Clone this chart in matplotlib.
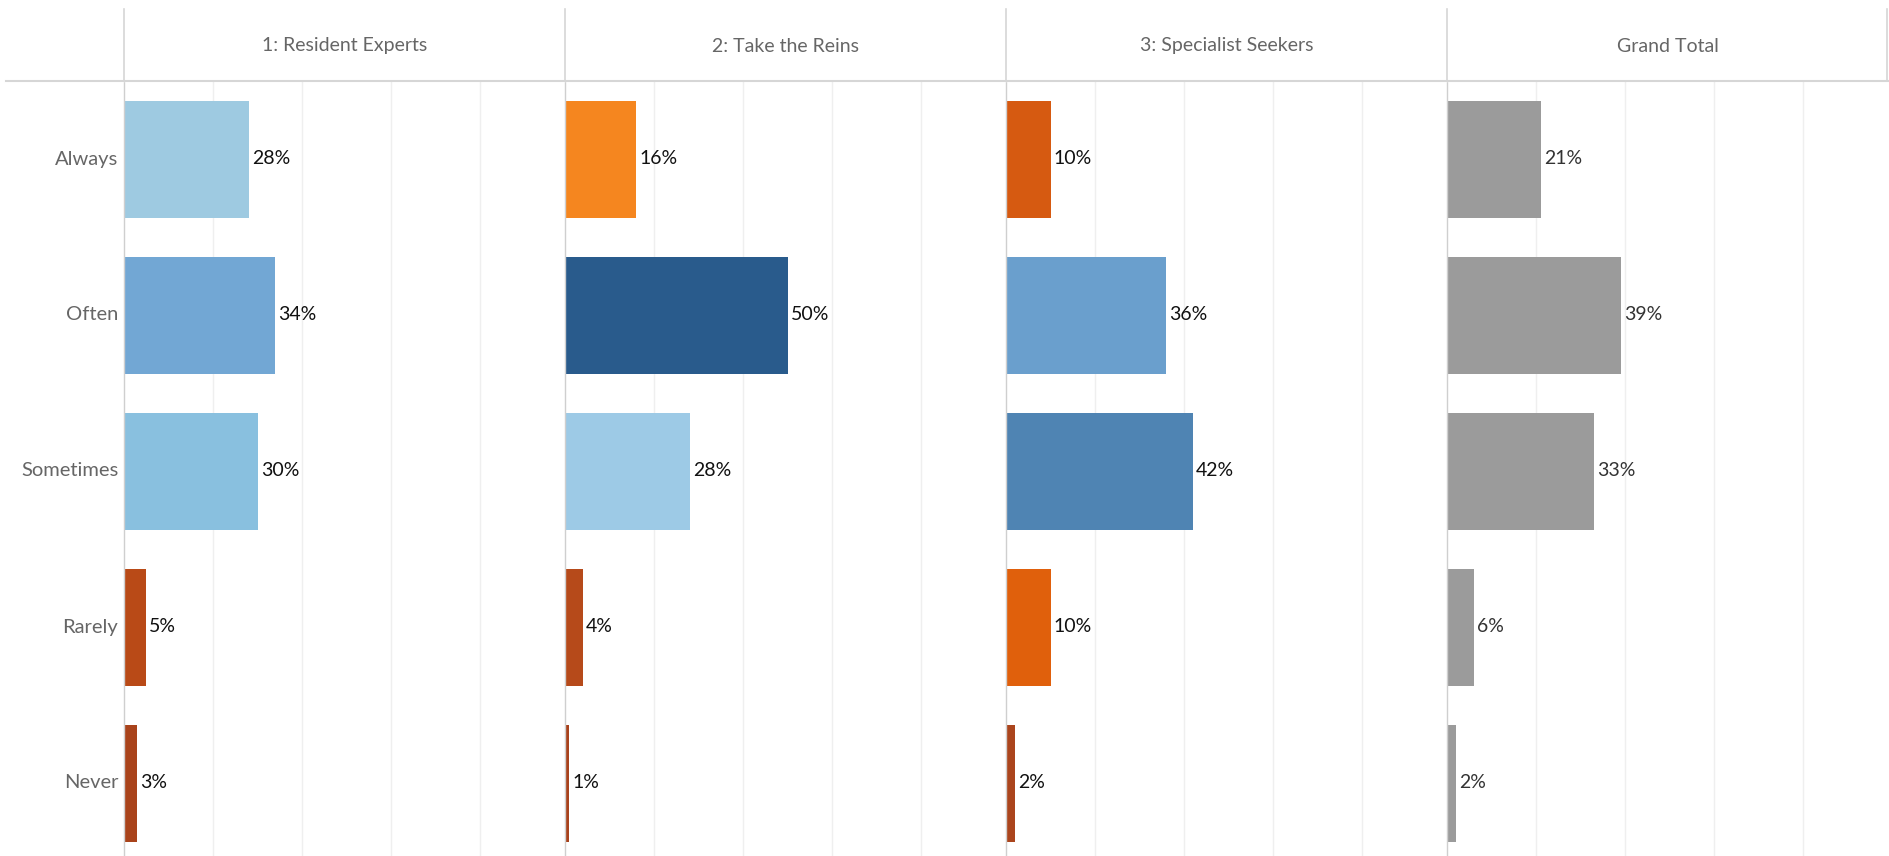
import matplotlib
matplotlib.use('Agg')
import matplotlib.pyplot as plt
from matplotlib.lines import Line2D

# survey answers by segment
answers = ['Always', 'Often', 'Sometimes', 'Rarely', 'Never']
segments = ['1: Resident Experts', '2: Take the Reins', '3: Specialist Seekers', 'Grand Total']

resident_experts = [28, 34, 30, 5, 3]
take_the_reins = [16, 50, 28, 4, 1]
specialist_seekers = [10, 36, 42, 10, 2]
grand_total = [21, 39, 33, 6, 2]

resident_colors = ['#9ecae1', '#72a7d4', '#89c0df', '#b94a17', '#a9431b']
reins_colors = ['#f5861f', '#295b8c', '#9dcae6', '#b64a1a', '#a8421c']
seekers_colors = ['#d65a11', '#6a9fcd', '#4f84b3', '#e0600c', '#ab451d']
total_colors = ['#9b9b9b'] * 5

W, H = 1889, 856
DPI = 100
FONT = 'Lato'
FS = 14

fig = plt.figure(figsize=(W / DPI, H / DPI), dpi=DPI)

panel_left = [124, 565, 1006, 1447]
panel_w = 441
header_bottom = 81
header_top = 9
row_h = 156

series = [resident_experts, take_the_reins, specialist_seekers, grand_total]
colors = [resident_colors, reins_colors, seekers_colors, total_colors]
label_colors = ['#111111', '#111111', '#111111', '#333333']

ax_h = H - header_bottom
for i, (vals, cols) in enumerate(zip(series, colors)):
    ax = fig.add_axes([panel_left[i] / W, 0, panel_w / W, ax_h / H])
    y = list(range(len(answers)))
    ax.barh(y, [v / 100 for v in vals], height=0.75, color=cols, zorder=2)
    for yy, v in zip(y, vals):
        ax.text(v / 100 + 0.007, yy, f'{v}%', va='center', ha='left',
                fontsize=FS, family=FONT, color=label_colors[i], zorder=3)
    ax.set_xlim(0, 0.99)
    ax.set_ylim(-0.5 + ax_h / row_h, -0.5)
    for gx in [0.2, 0.4, 0.6, 0.8]:
        ax.axvline(gx, color='#efefef', lw=1, zorder=1)
    for s in ['top', 'right', 'bottom']:
        ax.spines[s].set_visible(False)
    ax.spines['left'].set_color('#cfcfcf')
    ax.spines['left'].set_linestyle((0, (2, 1)))
    ax.spines['left'].set_linewidth(1)
    ax.set_xticks([])
    ax.set_yticks([])
    if i == 0:
        for yy, a in zip(y, answers):
            ax.text(-0.013, yy, a, va='center', ha='right', fontsize=FS + 0.5,
                    family=FONT, color='#666666', transform=ax.transData,
                    clip_on=False)

    # column header
    fig.text((panel_left[i] + panel_w / 2) / W, 1 - 46 / H, segments[i],
             ha='center', va='center', fontsize=FS, family=FONT,
             color='#666666')

# header separators
for x in panel_left + [W - 2]:
    fig.add_artist(Line2D([x / W, x / W], [1 - header_top / H, 1 - header_bottom / H],
                          color='#d6d6d6', lw=1.2))
fig.add_artist(Line2D([6 / W, 1], [1 - header_bottom / H, 1 - header_bottom / H],
                      color='#d6d6d6', lw=1.5))

fig.savefig('out.png', dpi=DPI)
